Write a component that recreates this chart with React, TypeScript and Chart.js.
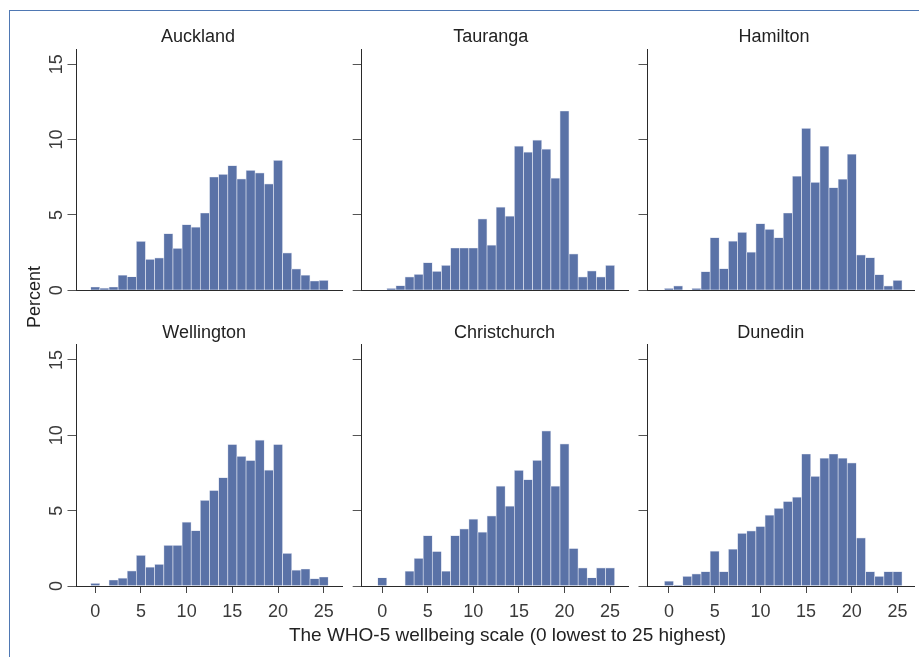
import { useEffect, useRef } from 'react';
import { Chart, registerables } from 'chart.js';

Chart.register(...registerables);

// ---------- data ----------
const scoreCategories = [0, 1, 2, 3, 4, 5, 6, 7, 8, 9, 10, 11, 12, 13, 14, 15, 16, 17, 18, 19, 20, 21, 22, 23, 24, 25];
const xTickLabels = [0, 5, 10, 15, 20, 25];
const yTickLabels = [0, 5, 10, 15];
const cityNames = ['Auckland', 'Tauranga', 'Hamilton', 'Wellington', 'Christchurch', 'Dunedin'];

const auckland = [0.22, 0.15, 0.22, 1.0, 0.9, 3.25, 2.06, 2.15, 3.76, 2.79, 4.36, 4.2, 5.13, 7.52, 7.7, 8.27, 7.39, 7.96, 7.79, 7.06, 8.63, 2.48, 1.42, 1.0, 0.62, 0.66];
const tauranga = [0, 0.13, 0.31, 0.89, 1.06, 1.84, 1.26, 1.66, 2.81, 2.81, 2.81, 4.74, 3.0, 5.52, 4.92, 9.57, 9.17, 9.97, 9.37, 7.45, 11.9, 2.42, 0.89, 1.29, 0.89, 1.66];
const hamilton = [0.13, 0.29, 0, 0.13, 1.24, 3.5, 1.44, 3.27, 3.85, 2.54, 4.42, 4.05, 3.5, 5.13, 7.57, 10.75, 7.17, 9.56, 6.81, 7.37, 9.03, 2.35, 2.17, 1.04, 0.29, 0.66];
const wellington = [0.18, 0, 0.4, 0.53, 1.0, 2.03, 1.26, 1.44, 2.7, 2.7, 4.24, 3.67, 5.68, 6.34, 7.2, 9.39, 8.6, 8.33, 9.68, 7.69, 9.39, 2.16, 1.06, 1.13, 0.49, 0.6];
const christchurch = [0.55, 0, 0, 0.98, 1.84, 3.35, 2.29, 0.98, 3.35, 3.79, 4.44, 3.57, 4.66, 6.63, 5.3, 7.68, 7.06, 8.34, 10.3, 6.63, 9.43, 2.49, 1.2, 0.55, 1.2, 1.2];
const dunedin = [0.33, 0.05, 0.64, 0.8, 0.95, 2.31, 0.95, 2.44, 3.5, 3.66, 3.95, 4.7, 5.15, 5.61, 5.9, 8.76, 7.28, 8.48, 8.76, 8.48, 8.17, 3.2, 0.95, 0.64, 0.95, 0.95];

const seriesValues = [auckland, tauranga, hamilton, wellington, christchurch, dunedin];

const yAxisTitle = 'Percent';
const xAxisTitle = 'The WHO-5 wellbeing scale (0 lowest to 25 highest)';

// ---------- layout / style ----------
const W = 919;
const H = 657;
const FONT = '"Liberation Sans", Arial, sans-serif';
const BAR = '#5a72a7';
const BAR_EDGE = '#d9deec';

const cols = [
  { L: 76.5, R: 342, xMin: -2.05, xMax: 27 },
  { L: 361.7, R: 628.3, xMin: -2.25, xMax: 27 },
  { L: 647.5, R: 914, xMin: -2.35, xMax: 26.8 },
];
const rows = [
  { T: 49.2, B: 290.3, titleY: 41.7 },
  { T: 344.9, B: 586, titleY: 337.7 },
];
const titleCenters = [198, 490.8, 774, 204.2, 504.5, 770.7];

const textPlugin = {
  id: 'panelText',
  afterDraw(chart: any, _args: any, opts: any) {
    const ctx = chart.ctx as CanvasRenderingContext2D;
    const xs = chart.scales.x;
    const ys = chart.scales.y;
    ctx.save();
    ctx.textBaseline = 'alphabetic';
    // panel title
    ctx.fillStyle = '#222';
    ctx.font = `18px ${FONT}`;
    ctx.textAlign = 'center';
    ctx.fillText(opts.title, opts.titleX, opts.titleY);
    // y tick labels (rotated)
    ctx.fillStyle = '#3a3a3a';
    if (opts.yLabels) {
      for (const v of yTickLabels) {
        const py = ys.getPixelForValue(v);
        ctx.save();
        ctx.translate(61.7, py);
        ctx.rotate(-Math.PI / 2);
        ctx.textAlign = 'center';
        ctx.fillText(String(v), 0, 0);
        ctx.restore();
      }
    }
    // x tick labels
    if (opts.xLabels) {
      ctx.textAlign = 'center';
      for (const v of xTickLabels) {
        ctx.fillText(String(v), xs.getPixelForValue(v), 616.5);
      }
    }
    // global axis titles
    if (opts.global) {
      ctx.fillStyle = '#222';
      ctx.font = `18px ${FONT}`;
      ctx.save();
      ctx.translate(40, 297);
      ctx.rotate(-Math.PI / 2);
      ctx.textAlign = 'center';
      ctx.fillText(yAxisTitle, 0, 0);
      ctx.restore();
      ctx.font = `19px ${FONT}`;
      ctx.textAlign = 'center';
      ctx.fillText(xAxisTitle, 507.5, 641);
    }
    ctx.restore();
  },
};

function Panel({ index }: { index: number }) {
  const ref = useRef<HTMLCanvasElement>(null);
  useEffect(() => {
    const col = cols[index % 3];
    const row = rows[Math.floor(index / 3)];
    const bottomRow = index >= 3;
    const values = seriesValues[index];
    const chart = new Chart(ref.current as HTMLCanvasElement, {
      type: 'bar',
      data: {
        datasets: [
          {
            data: scoreCategories.map((s, i) => ({ x: s, y: values[i] })),
            backgroundColor: BAR,
            borderColor: BAR_EDGE,
            borderWidth: 0.7,
            borderSkipped: 'start',
            barPercentage: 1,
            categoryPercentage: 1,
          } as any,
        ],
      },
      options: {
        responsive: false,
        animation: false,
        devicePixelRatio: 1,
        events: [],
        layout: {
          padding: {
            left: col.L - 10,
            right: W - col.R,
            top: row.T,
            bottom: H - row.B - 10,
          },
        },
        plugins: {
          legend: { display: false },
          tooltip: { enabled: false },
          title: { display: false },
          panelText: {
            title: cityNames[index],
            titleX: titleCenters[index],
            titleY: row.titleY,
            yLabels: index % 3 === 0,
            xLabels: bottomRow,
            global: index === 0,
          },
        } as any,
        scales: {
          x: {
            type: 'linear',
            min: col.xMin,
            max: col.xMax,
            offset: false,
            afterFit: (s: any) => {
              s.height = 10;
            },
            afterBuildTicks: (s: any) => {
              s.ticks = xTickLabels.map((v) => ({ value: v }));
            },
            ticks: { display: false },
            grid: {
              display: bottomRow,
              offset: false,
              drawOnChartArea: false,
              drawTicks: true,
              tickLength: 7,
              color: '#444',
              lineWidth: 1,
            },
            border: { display: true, color: '#2a2a2a', width: 1 },
          },
          y: {
            type: 'linear',
            min: 0,
            max: 16,
            afterFit: (s: any) => {
              s.width = 10;
            },
            afterBuildTicks: (s: any) => {
              s.ticks = yTickLabels.map((v) => ({ value: v }));
            },
            ticks: { display: false },
            grid: {
              display: true,
              drawOnChartArea: false,
              drawTicks: true,
              tickLength: 9,
              color: '#555',
              lineWidth: 1,
            },
            border: { display: true, color: '#2a2a2a', width: 1 },
          },
        } as any,
      },
      plugins: [textPlugin as any],
    });
    return () => chart.destroy();
  }, [index]);
  return (
    <canvas
      ref={ref}
      width={W}
      height={H}
      style={{ position: 'absolute', left: 0, top: 0, width: W, height: H }}
    />
  );
}

export default function App() {
  return (
    <div
      style={{
        position: 'absolute',
        left: 0,
        top: 0,
        width: W,
        height: H,
        overflow: 'hidden',
        background: '#ffffff',
      }}
    >
      <div
        style={{
          position: 'absolute',
          left: 9,
          top: 10,
          width: W + 20,
          height: H + 20,
          borderLeft: '1px solid #4f78b3',
          borderTop: '1px solid #4f78b3',
        }}
      />
      {[0, 1, 2, 3, 4, 5].map((i) => (
        <Panel key={i} index={i} />
      ))}
    </div>
  );
}
